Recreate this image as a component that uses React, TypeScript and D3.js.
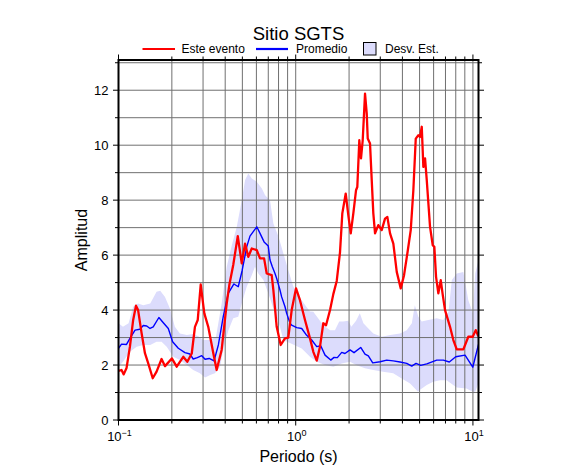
import React from "react";
import * as d3 from "d3";

const title = "Sitio SGTS";
const xLabel = "Periodo (s)";
const yLabel = "Amplitud";
const legendLabels = ["Este evento", "Promedio", "Desv. Est."];
const yTicks = [0, 2, 4, 6, 8, 10, 12];
const xDecades = [0.1, 1, 10];
const xDecadeExp = ["\u22121", "0", "1"];

const redT = [0.100,0.104,0.107,0.111,0.116,0.121,0.1255,0.129,0.135,0.141,0.147,0.156,0.164,0.175,0.183,0.200,0.213,0.232,0.2445,0.259,0.270,0.280,0.291,0.305,0.321,0.343,0.358,0.382,0.408,0.422,0.444,0.471,0.496,0.5175,0.540,0.565,0.603,0.629,0.663,0.686,0.732,0.748,0.781,0.823,0.870,0.908,0.949,1.004,1.057,1.128,1.204,1.257,1.314,1.371,1.431,1.483,1.562,1.630,1.704,1.778,1.832,1.915,1.981,2.044,2.114,2.189,2.226,2.285,2.336,2.388,2.461,2.516,2.549,2.626,2.685,2.741,2.803,2.925,3.057,3.191,3.289,3.406,3.555,3.716,3.914,4.086,4.265,4.457,4.611,4.757,4.921,5.031,5.143,5.251,5.368,5.488,5.728,5.932,6.057,6.193,6.380,6.582,6.756,6.960,7.427,7.752,8.102,8.829,9.419,9.975,10.37,10.73];
const redA = [1.79,1.82,1.66,1.89,2.67,3.64,4.16,4.0,3.16,2.43,2.07,1.52,1.76,2.22,1.96,2.24,1.94,2.3,2.12,2.42,3.39,3.64,4.93,3.88,3.39,2.42,1.82,2.55,4.24,4.91,5.64,6.69,5.7,6.42,5.94,6.24,6.18,5.88,5.88,5.33,5.27,4.73,3.39,2.73,2.97,3.0,4.0,4.79,4.36,3.64,2.97,2.48,2.16,2.67,3.52,3.45,4.0,4.58,5.06,6.1,7.52,8.24,7.45,6.79,7.52,8.36,8.48,10.18,9.52,10.18,11.88,11.15,10.24,10.06,8.73,7.52,6.79,7.09,6.91,7.33,7.39,6.79,6.42,5.39,4.79,5.27,6.06,6.91,8.36,10.24,10.36,10.3,10.67,9.21,9.52,8.73,7.03,6.36,6.3,5.21,4.61,5.09,4.55,4.0,3.39,2.91,2.57,2.57,3.03,3.03,3.27,3.05];

const blueT = [0.100,0.104,0.111,0.116,0.124,0.132,0.138,0.1443,0.1506,0.157,0.169,0.179,0.191,0.202,0.2175,0.237,0.253,0.264,0.2785,0.295,0.308,0.325,0.346,0.366,0.390,0.416,0.448,0.474,0.499,0.529,0.552,0.603,0.629,0.663,0.700,0.716,0.738,0.764,0.781,0.815,0.833,0.870,0.889,0.929,0.949,1.013,1.081,1.153,1.193,1.231,1.314,1.384,1.464,1.576,1.645,1.718,1.818,1.897,2.025,2.133,2.327,2.46,2.569,2.72,2.991,3.263,3.55,3.878,4.231,4.515,4.775,5.075,5.49,6.248,6.808,7.358,7.998,9.024,9.98,10.75];
const blueA = [2.61,2.76,2.75,2.97,3.27,3.3,3.44,3.42,3.33,3.39,3.73,3.54,3.33,2.85,2.61,2.45,2.4,2.22,2.27,2.34,2.21,2.24,2.15,2.73,3.76,4.61,4.95,4.85,5.45,6.3,6.69,7.03,6.79,6.48,6.33,5.82,5.58,5.33,5.15,4.73,4.48,4.12,3.88,3.52,3.45,3.36,3.33,3.08,2.99,2.91,2.67,2.7,2.36,2.18,2.28,2.27,2.46,2.42,2.55,2.45,2.64,2.4,2.33,2.08,2.12,2.18,2.15,2.11,2.06,1.96,2.06,1.99,2.04,2.18,2.18,2.11,2.3,2.36,1.92,2.75];

const bandUpT = [0.100,0.106,0.114,0.121,0.129,0.138,0.151,0.164,0.172,0.183,0.195,0.208,0.222,0.243,0.264,0.282,0.301,0.329,0.355,0.382,0.408,0.436,0.465,0.496,0.518,0.540,0.565,0.603,0.644,0.672,0.716,0.748,0.800,0.852,0.908,0.970,1.057,1.153,1.204,1.257,1.338,1.431,1.562,1.665,1.76,1.85,1.98,2.06,2.19,2.30,2.41,2.57,2.74,3.06,3.41,3.88,4.23,4.52,4.70,4.92,5.14,5.60,6.25,6.81,7.28,7.60,8.10,8.83,9.42,10.0,10.3,10.75];
const bandUpA = [3.52,3.39,3.52,4.12,4.24,4.18,4.24,4.67,4.7,4.48,4.06,3.39,3.15,3.09,3.13,3.05,2.91,2.91,3.03,4.24,5.58,6.36,7.03,8.0,8.73,8.97,8.79,8.67,8.42,8.18,8.0,7.15,6.67,6.06,5.45,4.85,4.45,4.1,3.95,3.94,3.7,3.45,3.27,3.27,3.58,3.58,3.61,3.39,3.61,3.88,3.52,3.33,3.15,3.03,3.09,3.15,3.27,3.52,4.18,3.76,3.58,3.64,3.7,3.64,3.94,5.09,5.33,5.39,4.36,3.88,5.33,5.82];

const bandLoT = [0.100,0.106,0.116,0.1267,0.138,0.151,0.164,0.175,0.187,0.204,0.222,0.243,0.264,0.288,0.308,0.329,0.350,0.374,0.390,0.417,0.444,0.474,0.496,0.529,0.565,0.589,0.615,0.657,0.700,0.748,0.815,0.852,0.928,1.081,1.204,1.314,1.464,1.630,1.818,2.025,2.19,2.46,2.74,3.11,3.55,3.88,4.42,4.9,5.03,5.49,5.97,6.53,7.1,8.10,9.2,9.97,10.3,10.75];
const bandLoA = [1.94,2.12,2.48,2.67,2.73,2.73,2.85,2.85,2.67,2.3,2.18,2.0,1.82,1.7,1.55,1.64,1.7,1.94,2.55,3.27,3.7,3.76,4.24,4.85,5.27,5.58,5.33,5.09,4.61,4.06,3.39,2.9,2.8,2.6,2.3,2.12,2.0,1.94,2.06,2.12,2.0,1.88,1.82,1.76,1.7,1.55,1.33,1.03,1.1,1.27,1.39,1.45,1.45,1.18,1.15,1.03,1.03,1.35];

const W = 586, H = 475;
const L = 118.5, R = 478.5, T = 60, B = 420;
const FONT = "'Liberation Sans', Arial, Helvetica, sans-serif";

export default function App() {
  const x = d3.scaleLog().domain([0.1, 10.75]).range([L, R]);
  const y = d3.scaleLinear().domain([0, 13.1]).range([B, T]);

  const line = d3.line<[number, number]>().x(d => x(d[0])).y(d => y(d[1]));
  const red = line(redT.map((t, i) => [t, redA[i]] as [number, number]));
  const blue = line(blueT.map((t, i) => [t, blueA[i]] as [number, number]));
  const bandPts: [number, number][] = [
    ...bandUpT.map((t, i) => [t, bandUpA[i]] as [number, number]),
    ...bandLoT.map((t, i) => [t, bandLoA[i]] as [number, number]).reverse(),
  ];
  const band = line(bandPts) + "Z";

  const minorX: number[] = [];
  [0.1, 1].forEach(d => { for (let k = 2; k <= 9; k++) minorX.push(d * k); });
  const allX = [...minorX, 1, 10];
  const yGrid = d3.range(1, 14);

  return (
    <svg width={W} height={H} style={{ position: "absolute", left: 0, top: 0, fontFamily: FONT }}>
      <rect width={W} height={H} fill="#fff" />
      <defs>
        <clipPath id="plot"><rect x={L} y={T} width={R - L} height={B - T} /></clipPath>
      </defs>
      <g clipPath="url(#plot)">
        <path d={band} fill="#dcdcfc" stroke="none" />
        {allX.map((v, i) => (
          <line key={"gx" + i} x1={x(v)} x2={x(v)} y1={T} y2={B} stroke="#707070" strokeWidth={1} />
        ))}
        {yGrid.map(v => (
          <line key={"gy" + v} x1={L} x2={R} y1={y(v)} y2={y(v)} stroke="#707070" strokeWidth={1} />
        ))}
        <path d={blue!} fill="none" stroke="#0000ff" strokeWidth={1.4} strokeLinejoin="round" />
        <path d={red!} fill="none" stroke="#ff0000" strokeWidth={2.3} strokeLinejoin="round" />
      </g>
      <rect x={L} y={T} width={R - L} height={B - T} fill="none" stroke="#000" strokeWidth={2} />
      {d3.range(0, 14).map(v => {
        const len = v % 2 === 0 ? 4.5 : 2.5;
        return (
          <g key={"yt" + v}>
            <line x1={L - 1 - len} x2={L} y1={y(v)} y2={y(v)} stroke="#000" strokeWidth={1} />
            <line x1={R} x2={R + 1 + len} y1={y(v)} y2={y(v)} stroke="#000" strokeWidth={1} />
          </g>
        );
      })}
      {yTicks.map(v => (
        <text key={"yl" + v} x={108.5} y={y(v)} dy="0.36em" textAnchor="end" fontSize={13}>{v}</text>
      ))}
      {[0.1, ...allX].map((v, i) => {
        const major = xDecades.includes(v);
        const len = major ? 4.5 : 2.5;
        return (
          <g key={"xt" + i}>
            <line x1={x(v)} x2={x(v)} y1={B} y2={B + 1 + len} stroke="#000" strokeWidth={1} />
            <line x1={x(v)} x2={x(v)} y1={T - 1 - len} y2={T} stroke="#000" strokeWidth={1} />
          </g>
        );
      })}
      {xDecades.map((v, i) => (
        <text key={"xl" + i} x={x(v) + 1} y={441} textAnchor="middle" fontSize={13}>
          10<tspan dy={-5} fontSize={9}>{xDecadeExp[i]}</tspan>
        </text>
      ))}
      <text x={(L + R) / 2} y={462} textAnchor="middle" fontSize={16}>{xLabel}</text>
      <text transform={`translate(86.5,${(T + B) / 2})  rotate(-90)`} textAnchor="middle" fontSize={16}>{yLabel}</text>
      <text x={(L + R) / 2} y={40} textAnchor="middle" fontSize={18.5}>{title}</text>
      <line x1={142.5} x2={175} y1={49} y2={49} stroke="#ff0000" strokeWidth={2.2} />
      <text x={181.5} y={52.5} fontSize={12}>{legendLabels[0]}</text>
      <line x1={256} x2={288} y1={49} y2={49} stroke="#0000ff" strokeWidth={2.2} />
      <text x={296} y={52.5} fontSize={12}>{legendLabels[1]}</text>
      <rect x={363.5} y={42.5} width={12.5} height={12.5} fill="#dcdcfc" stroke="#000" strokeWidth={1} />
      <text x={385} y={52.5} fontSize={12}>{legendLabels[2]}</text>
    </svg>
  );
}
